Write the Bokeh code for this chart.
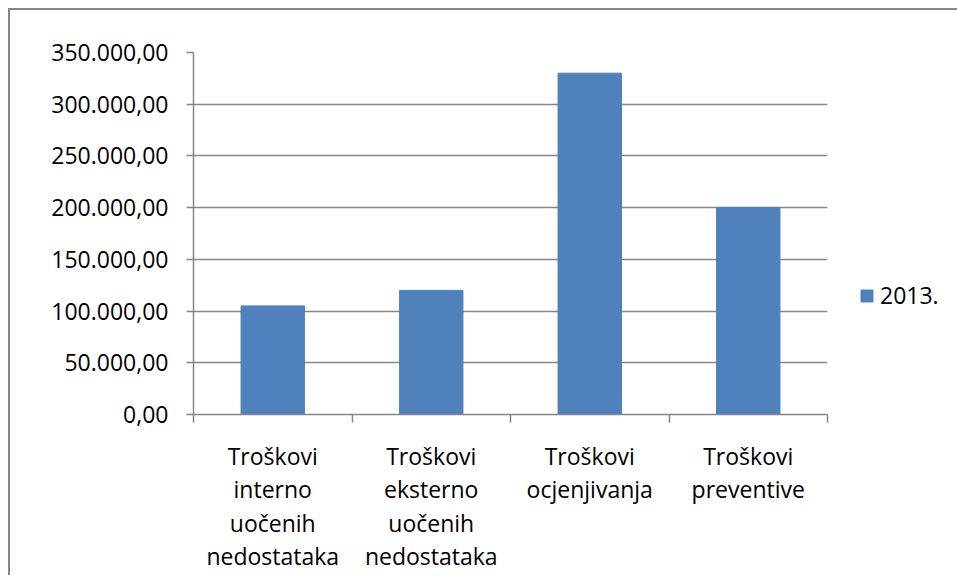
from bokeh.plotting import figure
from bokeh.models import FixedTicker, Range1d, Legend, LegendItem, ColumnDataSource
from bokeh.embed import file_html
from bokeh.resources import INLINE

categories = [
    "Troškovi\ninterno\nuočenih\nnedostataka",
    "Troškovi\neksterno\nuočenih\nnedostataka",
    "Troškovi\nocjenjivanja",
    "Troškovi\npreventive",
]
values_2013 = [105000, 120000, 330000, 200000]
series_name = "2013."
y_ticks = [0, 50000, 100000, 150000, 200000, 250000, 300000, 350000]
y_tick_labels = ["0,00", "50.000,00", "100.000,00", "150.000,00", "200.000,00",
                 "250.000,00", "300.000,00", "350.000,00"]

FONT = "Open Sans"
GRID = "#868686"
BAR = "#4F81BD"

n = len(categories)
xs = [i + 0.5 for i in range(n)]
src = ColumnDataSource(dict(x=xs, top=values_2013))

p = figure(frame_width=634, frame_height=362, output_backend="svg", toolbar_location=None,
           x_range=Range1d(0, n), y_range=Range1d(0, 350000),
           min_border_left=183, min_border_right=110, min_border_top=42,
           min_border_bottom=150)
p.styles = {"margin-left": "8px", "margin-top": "8px",
            "border-left": "2px solid #868686", "border-top": "2px solid #868686"}
p.outline_line_color = None
p.background_fill_color = "white"
p.border_fill_color = "white"

r = p.vbar(x="x", top="top", width=0.4, bottom=0, source=src,
           fill_color=BAR, line_color=BAR)

# y axis
p.yaxis.ticker = FixedTicker(ticks=y_ticks)
p.yaxis.major_label_overrides = {t: l for t, l in zip(y_ticks, y_tick_labels)}
p.yaxis.axis_line_color = GRID
p.yaxis.axis_line_width = 1.5
p.yaxis.major_tick_line_color = GRID
p.yaxis.major_tick_line_width = 1.5
p.yaxis.major_tick_out = 7
p.yaxis.major_tick_in = 0
p.yaxis.minor_tick_line_color = None
p.yaxis.major_label_standoff = 18
p.yaxis.major_label_text_font = FONT
p.yaxis.major_label_text_font_size = "23px"
p.yaxis.major_label_text_color = "black"

# x axis: labels at centers, ticks at boundaries
p.xaxis.ticker = FixedTicker(ticks=xs, minor_ticks=list(range(n + 1)))
p.xaxis.major_label_overrides = {x: c for x, c in zip(xs, categories)}
p.xaxis.axis_line_color = GRID
p.xaxis.axis_line_width = 1.5
p.xaxis.major_tick_line_color = None
p.xaxis.minor_tick_line_color = GRID
p.xaxis.minor_tick_line_width = 1.5
p.xaxis.minor_tick_out = 8
p.xaxis.minor_tick_in = 0
p.xaxis.major_label_standoff = 17
p.xaxis.major_label_text_font = FONT
p.xaxis.major_label_text_font_size = "23px"
p.xaxis.major_label_text_color = "black"
p.xaxis.major_label_text_line_height = 1.05

p.xgrid.grid_line_color = None
p.ygrid.ticker = FixedTicker(ticks=y_ticks)
p.ygrid.grid_line_color = GRID
p.ygrid.grid_line_width = 1.5

legend = Legend(items=[LegendItem(label=series_name, renderers=[r])],
                location=(32, 103), orientation="vertical",
                glyph_width=15, glyph_height=15, label_standoff=6,
                padding=0, margin=0, spacing=0,
                label_text_font=FONT, label_text_font_size="23px",
                label_text_color="black",
                border_line_color=None, background_fill_alpha=0)
p.add_layout(legend, "right")

open("out.html", "w").write(file_html(p, INLINE))
